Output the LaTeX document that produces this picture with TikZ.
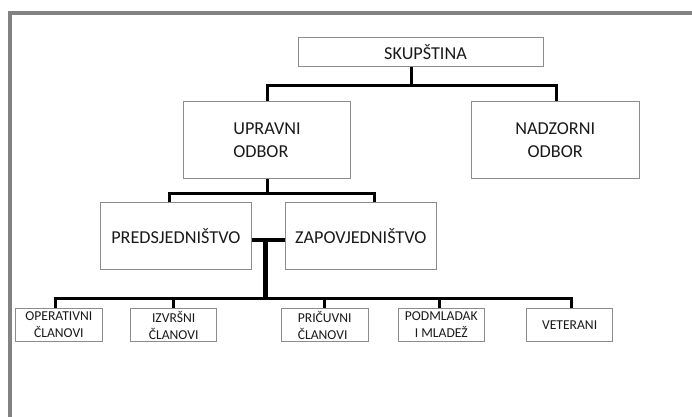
\documentclass[tikz,border=0pt]{standalone}
\usepackage{fontspec}
\setmainfont{Carlito}
\usetikzlibrary{calc}
\definecolor{boxgray}{HTML}{8C8C8C}
\definecolor{framegray}{HTML}{828282}
\definecolor{txt}{HTML}{1A1A1A}
\begin{document}
\begin{tikzpicture}[x=1pt,y=-1pt,
  box/.style={draw=boxgray, line width=0.9pt, inner sep=0pt, fill=white, text=txt},
  bigbox/.style={box, font=\fontsize{18.2}{23.3}\selectfont},
  smallbox/.style={box, minimum width=86.5pt, minimum height=33.4pt,
                   font=\fontsize{13.6}{17}\selectfont, align=center},
  conn/.style={line width=3pt, black},
  thickconn/.style={line width=4.8pt, black}]
\useasboundingbox[fill=white] (0,0) rectangle (692,416);
% outer frame
\draw[framegray, line width=4pt] (10,430) -- (10,13) -- (705,13);

% boxes
\node[bigbox, minimum width=245pt, minimum height=28.7pt] (skup) at (420.5,51.7) {\hspace{10pt}SKUPŠTINA};
\node[bigbox, minimum width=167.4pt, minimum height=76.6pt, align=left] (upr) at (267,140) {UPRAVNI\\ODBOR};
\node[bigbox, minimum width=168.3pt, minimum height=76.6pt, align=center] (nad) at (555.2,140) {NADZORNI\\ODBOR};
\node[bigbox, minimum width=151.7pt, minimum height=66.6pt] (pred) at (175.85,236) {PREDSJEDNIŠTVO};
\node[bigbox, minimum width=151.7pt, minimum height=66.6pt] (zap) at (360.85,236) {ZAPOVJEDNIŠTVO};

\node[smallbox] (ope) at (58.85,325) {OPERATIVNI\\ČLANOVI};
\node[smallbox] (izv) at (173.65,325) {\raisebox{-2pt}{\parbox{60pt}{\centering IZVRŠNI\\ČLANOVI}}};
\node[smallbox, align=left] (pri) at (324.7,325) {PRIČUVNI\\ČLANOVI};
\node[smallbox] (pod) at (441.3,325) {PODMLADAK\\I MLADEŽ};
\node[smallbox] (vet) at (569.65,325) {VETERANI};

% level 1 connectors
\draw[conn] (upr.north) -- ++(0,-16) -| ([xshift=1.5pt]nad.north);
\coordinate (b1) at ($(upr.north)!0.5!([xshift=1.5pt]nad.north)+(0,-16)$);
\draw[conn] (skup.south -| b1) -- (b1);

% level 2 connectors
\draw[conn] (upr.south) -- ++(0,14.3) coordinate (b2);
\draw[conn] ([xshift=-6.85pt]pred.north) |- (b2) -| ([xshift=13.15pt]zap.north);

% thick link between predsjednistvo and zapovjednistvo
\draw[thickconn] ([yshift=-4pt]pred.east) -- ([yshift=-4pt]zap.west);
\coordinate (t) at ($([yshift=-4pt]pred.east)!0.4!([yshift=-4pt]zap.west)$);
\draw[thickconn] (t) -- ++(0,58.5) coordinate (b3);

% level 3 connectors
\draw[conn] ([xshift=-3.85pt]ope.north) |- (b3) -| ([xshift=1.35pt]vet.north);
\draw[conn] (izv.north) -- (izv.north |- b3);
\draw[conn] (pri.north) -- (pri.north |- b3);
\draw[conn] ([xshift=-2.3pt]pod.north) -- ([xshift=-2.3pt]pod.north |- b3);
\end{tikzpicture}
\end{document}
